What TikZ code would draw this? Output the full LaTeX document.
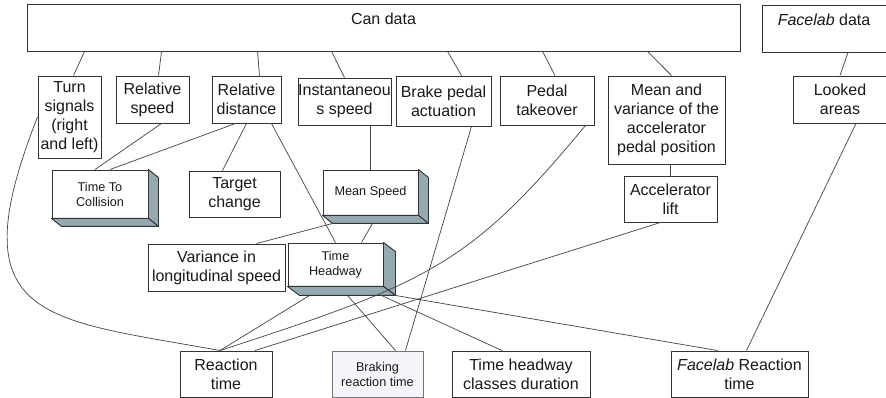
\documentclass[tikz,border=0pt]{standalone}
\usepackage{fontspec}
\setmainfont{Liberation Sans}
\usepackage{xcolor}
\usepackage{tikz}
\usetikzlibrary{calc}
\definecolor{boxline}{RGB}{51, 51, 51}
\definecolor{linkgray}{RGB}{72, 72, 72}
\definecolor{slabside}{RGB}{148, 170, 176}
\definecolor{brakefill}{RGB}{243, 245, 250}

\begin{document}
\begin{tikzpicture}[x=0.75pt, y=-0.75pt,
  every node/.style={align=center, text=black!90, font=\fontsize{12}{14.25}\selectfont},
  box/.style={draw=boxline, line width=0.7pt, fill=white, inner sep=0pt},
  source/.style={box, text height=15.75pt, text depth=19.5pt},
  slab/.style={box, font=\fontsize{9.5}{11.25}\selectfont},
  side/.style={fill=slabside, draw=boxline, line width=0.7pt, line join=round},
  link/.style={draw=linkgray, line width=0.55pt}]
\useasboundingbox (0,0) rectangle (886,398);

% Sources
\node[source, minimum width=534.75pt] (can) at (383.5,27.5) {Can data};
\node[source, minimum width=93pt] (facelab) at (824,28.5) {\textit{Facelab} data};

% Measures
\node[box, minimum width=47.25pt, minimum height=61.5pt] (turn) at (69.5,117) {Turn\\signals\\(right\\and left)};
\node[box, minimum width=54.75pt, minimum height=35.25pt] (relspeed) at (152.5,99.5) {Relative\\speed};
\node[box, minimum width=51.75pt, minimum height=35.25pt] (reldist) at (246.5,99.5) {Relative\\distance};
\node[box, minimum width=69.75pt, minimum height=35.25pt] (inst) at (344.5,101.5) {Instantaneou\\s speed};
\node[box, minimum width=71.25pt, minimum height=37.5pt] (brake) at (443.5,101) {Brake pedal\\actuation};
\node[box, minimum width=70.5pt, minimum height=36.75pt] (pedal) at (547,100.5) {Pedal\\takeover};
\node[box, minimum width=87.75pt, minimum height=66pt] (meanvar) at (666.5,120) {Mean and\\variance of the\\accelerator\\pedal position};
\node[box, minimum width=70.5pt, minimum height=35.25pt] (looked) at (840,99.5) {Looked\\areas};

% Derived indicators
\node[slab, minimum width=72pt, minimum height=36pt] (ttc) at (100,194) {Time To\\Collision};
\node[box, minimum width=68.25pt, minimum height=34.5pt] (target) at (234.5,194) {Target\\change};
\node[slab, minimum width=71.25pt, minimum height=33.75pt] (mspeed) at (370.5,192.5) {Mean Speed};
\node[box, minimum width=69.75pt, minimum height=34.5pt] (accel) at (670.5,199) {Accelerator\\lift};
\node[box, minimum width=102.75pt, minimum height=35.25pt] (variance) at (216.5,267.5) {Variance in\\longitudinal speed};
\node[slab, minimum width=71.25pt, minimum height=32.25pt] (headway) at (335.5,264.5) {Time\\Headway};

% Results
\node[box, minimum width=69pt, minimum height=34.5pt] (reaction) at (226,374) {Reaction\\time};
\node[slab, draw=black!55, fill=brakefill, minimum width=68.25pt, minimum height=34.5pt] (braking) at (377.5,374) {Braking\\reaction time};
\node[box, minimum width=103.5pt, minimum height=34.5pt] (classes) at (521,374) {Time headway\\classes duration};
\node[box, minimum width=102.75pt, minimum height=34.5pt] (facreact) at (739.5,374) {\textit{Facelab} Reaction\\time};

% Slab sides
\foreach \n/\dx/\dy in {ttc/10/8, mspeed/10/8, headway/12/9} {
  \filldraw[side] (\n.north east) -- ++(\dx,\dy) -- ($(\n.south east)+(\dx,\dy)$) -- (\n.south east) -- cycle;
  \filldraw[side] (\n.south west) -- (\n.south east) -- ($(\n.south east)+(\dx,\dy)$) -- ($(\n.south west)+(\dx,\dy)$) -- cycle;
}

% Links from the sources
\draw[link] ($(can.south west)+(58,0)$) -- ($(turn.north)+(4,0)$);
\draw[link] ($(can.south west)+(135,0)$) -- ($(relspeed.north)+(6,0)$);
\draw[link] ($(can.south west)+(231,0)$) -- ($(reldist.north)+(13,0)$);
\draw[link] ($(can.south west)+(305,0)$) -- (inst.north);
\draw[link] ($(can.south west)+(421,0)$) -- ($(brake.north)+(18,0)$);
\draw[link] ($(can.south west)+(516,0)$) -- ($(pedal.north)+(8,0)$);
\draw[link] ($(can.south west)+(621,0)$) -- ($(meanvar.north)+(5,0)$);
\draw[link] ($(facelab.south)+(24,0)$) -- (looked.north);

% Links to the indicators
\draw[link] ($(relspeed.south)+(9,0)$) -- ($(ttc.north)+(-5,0)$);
\draw[link] ($(reldist.south)+(-11,0)$) -- ($(ttc.north)+(10,0)$);
\draw[link] (reldist.south) -- ($(target.north)+(-12,0)$);
\draw[link] ($(reldist.south east)+(-10,0)$) -- (headway.north);
\draw[link] (inst.south -| mspeed.north) -- (mspeed.north);
\draw[link] ($(mspeed.south west)+(10,8)$) -- ($(variance.north)+(40,0)$);
\draw[link] ($(mspeed.south)+(2,8)$) -- ($(headway.north)+(26,0)$);
\draw[link] (meanvar.south -| accel.north) -- (accel.north);

% Links to the results
\draw[link] (turn.west) .. controls +(-81,205) and +(-176,-32) .. ($(reaction.north)+(-6,0)$);
\draw[link] ($(pedal.south east)+(-9,0)$) .. controls +(-115,139) and +(209,-68) .. ($(reaction.north)+(-6,0)$);
\draw[link] ($(accel.south)+(-10,0)$) -- ($(reaction.north)+(29,0)$);
\draw[link] ($(brake.south)+(28,0)$) -- ($(braking.north)+(28,0)$);
\draw[link] ($(headway.south west)+(22,9)$) -- ($(reaction.north)+(-6,0)$);
\draw[link] ($(headway.south west)+(60,9)$) -- ($(braking.north)+(18,0)$);
\draw[link] ($(headway.south east)+(-2,9)$) -- ($(classes.north)+(-19,0)$);
\draw[link] ($(headway.south east)+(12,9)$) -- ($(facreact.north)+(-22,0)$);
\draw[link] ($(looked.south)+(16,0)$) -- ($(facreact.north)+(7,0)$);
\end{tikzpicture}
\end{document}
